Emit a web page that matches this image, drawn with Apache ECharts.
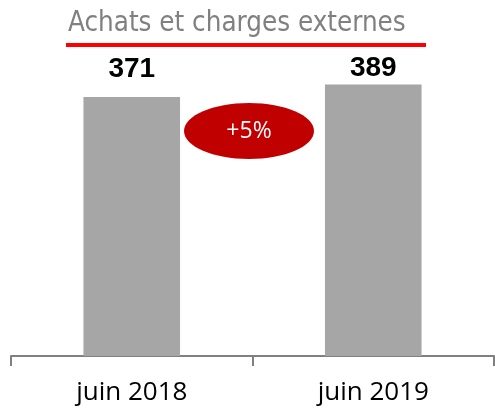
<!DOCTYPE html>
<html>
<head>
<meta charset="utf-8">
<script src="https://cdn.jsdelivr.net/npm/echarts@6/dist/echarts.min.js"></script>
<style>
  html, body { margin: 0; padding: 0; background: #fff; }
  #chart { width: 495px; height: 411px; }
</style>
</head>
<body>
<div id="chart"></div>
<script>
// Achats et charges externes, juin 2018 vs juin 2019
const categories = ['juin 2018', 'juin 2019'];
const values = [371, 389];
const labelGap = [14, 2]; // labels sit at about the same height above the bars
const chartTitle = 'Achats et charges externes';
const variation = '+5%';

const chart = echarts.init(document.getElementById('chart'));

const option = {
  animation: false,
  grid: { left: 11, right: 1, top: 7, bottom: 55 },
  xAxis: {
    type: 'category',
    data: categories,
    axisLine: { lineStyle: { color: '#808080', width: 2 } },
    axisTick: { show: true, length: 10, lineStyle: { color: '#808080', width: 2 } },
    axisLabel: {
      color: '#000',
      fontSize: 26,
      fontFamily: 'Open Sans',
      margin: 24
    }
  },
  yAxis: {
    type: 'value',
    min: 0,
    max: 500,
    show: false,
    splitLine: { show: false }
  },
  series: [{
    type: 'bar',
    barWidth: '40%',
    itemStyle: { color: '#a6a6a6' },
    data: values.map((v, i) => ({
      value: v,
      label: { distance: labelGap[i] }
    })),
    label: {
      show: true,
      position: 'top',
      color: '#000',
      fontSize: 28,
      fontWeight: 'bold',
      fontFamily: 'Liberation Sans'
    }
  }],
  graphic: [
    {
      type: 'text',
      left: 68,
      top: 10,
      style: {
        text: chartTitle,
        fill: '#808080',
        font: '27.5px "DejaVu Sans Condensed"'
      }
    },
    {
      type: 'rect',
      shape: { x: 66, y: 43, width: 360, height: 4 },
      style: { fill: '#ff0000' }
    },
    {
      type: 'ellipse',
      shape: { cx: 249, cy: 131, rx: 65, ry: 28 },
      style: { fill: '#c00000' }
    },
    {
      type: 'text',
      x: 249,
      y: 131,
      style: {
        text: variation,
        fill: '#fff',
        font: '23px "Open Sans"',
        align: 'center',
        verticalAlign: 'middle'
      }
    }
  ]
};

chart.setOption(option);
</script>
</body>
</html>
